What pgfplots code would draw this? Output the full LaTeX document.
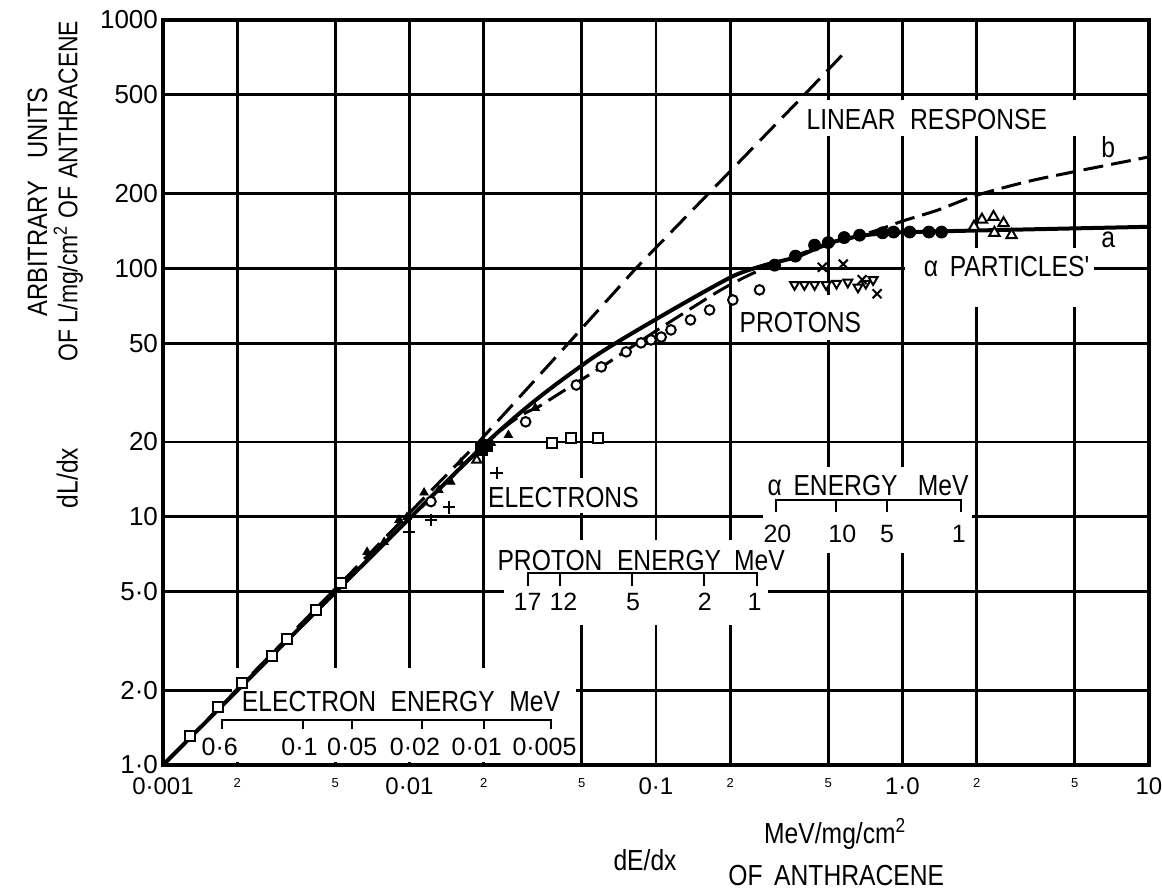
\documentclass[border=0pt]{standalone}
\usepackage{pgfplots}
\pgfplotsset{compat=1.18}
\usepackage{fontspec}
\setmainfont{Liberation Sans}
\newfontfamily\narrow{Liberation Sans}[FakeStretch=0.85]
\newcommand\sm{\fontsize{6.5}{7}\selectfont}
\tikzset{
  lab/.style={font=\narrow\fontsize{14.5}{16}\selectfont, inner sep=0pt},
  num/.style={font=\fontsize{12.5}{14}\selectfont, inner sep=0pt},
  mask/.style={fill=white, draw=none},
}
\begin{document}
\begin{tikzpicture}
\begin{axis}[
  scale only axis, width=493pt, height=372.5pt,
  xmode=log, ymode=log,
  xmin=0.001, xmax=10, ymin=1, ymax=1000,
  xtick={0.001,0.002,0.005,0.01,0.02,0.05,0.1,0.2,0.5,1,2,5,10},
  xticklabels={0·001,\sm 2,\sm 5,0·01,\sm 2,\sm 5,0·1,\sm 2,\sm 5,1·0,\sm 2,\sm 5,10},
  ytick={1,2,5,10,20,50,100,200,500,1000},
  yticklabels={1·0,2·0,5·0,10,20,50,100,200,500,1000},
  minor xtick={}, minor ytick={},
  major tick length=0pt,
  grid=major, major grid style={black, line width=1.4pt},
  axis line style={line width=1.8pt},
  xticklabel style={font=\fontsize{12}{13}\selectfont, yshift=-3pt},
  yticklabel style={font=\fontsize{13}{14}\selectfont, xshift=1pt},
  clip=false,
]
% white boxes behind the labels
\fill[mask] (rel axis cs:0.6485,0.8443) rectangle (rel axis cs:0.9364,0.8926);
\fill[mask] (rel axis cs:0.7525,0.6148) rectangle (rel axis cs:0.9444,0.6940);
\fill[mask] (rel axis cs:0.5879,0.5705) rectangle (rel axis cs:0.7061,0.6309);
\fill[mask] (rel axis cs:0.3303,0.3383) rectangle (rel axis cs:0.4818,0.3852);
\fill[mask] (rel axis cs:0.6081,0.2846) rectangle (rel axis cs:0.8202,0.4000);
\fill[mask] (rel axis cs:0.3455,0.1879) rectangle (rel axis cs:0.6131,0.3020);
\fill[mask] (rel axis cs:0.0697,0.0040) rectangle (rel axis cs:0.4192,0.1302);

% labels
\node[lab] at (rel axis cs:0.7747,0.8671) {LINEAR\hspace{0.5em}RESPONSE};
\node[lab] at (rel axis cs:0.9586,0.8295) {b};
\node[lab] at (rel axis cs:0.9586,0.7047) {a};
\node[lab] at (rel axis cs:0.8556,0.6685) {α\hspace{0.4em}PARTICLES'};
\node[lab] at (rel axis cs:0.6465,0.5946) {PROTONS};
\node[lab] at (rel axis cs:0.4061,0.3584) {ELECTRONS};

% alpha energy scale
\node[lab] at (rel axis cs:0.7152,0.3745) {α\hspace{0.4em}ENERGY\hspace{0.7em}MeV};
\draw[line width=1pt] (rel axis cs:0.6212,0.3396) -- (rel axis cs:0.6212,0.3557) -- (rel axis cs:0.8091,0.3557) -- (rel axis cs:0.8091,0.3396);
\draw[line width=1pt] (rel axis cs:0.6828,0.3557) -- (rel axis cs:0.6828,0.3396);
\draw[line width=1pt] (rel axis cs:0.7343,0.3557) -- (rel axis cs:0.7343,0.3396);
\node[num] at (rel axis cs:0.6232,0.3100) {20};
\node[num] at (rel axis cs:0.6889,0.3100) {10};
\node[num] at (rel axis cs:0.7343,0.3100) {5};
\node[num] at (rel axis cs:0.8071,0.3100) {1};

% proton energy scale
\node[lab] at (rel axis cs:0.4850,0.2745) {PROTON\hspace{0.5em}ENERGY\hspace{0.45em}MeV};
\draw[line width=1pt] (rel axis cs:0.3697,0.2403) -- (rel axis cs:0.3697,0.2577) -- (rel axis cs:0.6020,0.2577) -- (rel axis cs:0.6020,0.2403);
\draw[line width=1pt] (rel axis cs:0.4030,0.2577) -- (rel axis cs:0.4030,0.2403);
\draw[line width=1pt] (rel axis cs:0.4758,0.2577) -- (rel axis cs:0.4758,0.2403);
\draw[line width=1pt] (rel axis cs:0.5485,0.2577) -- (rel axis cs:0.5485,0.2403);
\node[num] at (rel axis cs:0.3697,0.2188) {17};
\node[num] at (rel axis cs:0.4061,0.2188) {12};
\node[num] at (rel axis cs:0.4768,0.2188) {5};
\node[num] at (rel axis cs:0.5495,0.2188) {2};
\node[num] at (rel axis cs:0.6000,0.2188) {1};

% electron energy scale
\node[lab] at (rel axis cs:0.2414,0.0859) {ELECTRON\hspace{0.5em}ENERGY\hspace{0.5em}MeV};
\draw[line width=1pt] (rel axis cs:0.0596,0.0483) -- (rel axis cs:0.0596,0.0604) -- (rel axis cs:0.3939,0.0604) -- (rel axis cs:0.3939,0.0483);
\draw[line width=1pt] (rel axis cs:0.1424,0.0604) -- (rel axis cs:0.1424,0.0483);
\draw[line width=1pt] (rel axis cs:0.1919,0.0604) -- (rel axis cs:0.1919,0.0483);
\draw[line width=1pt] (rel axis cs:0.2626,0.0604) -- (rel axis cs:0.2626,0.0483);
\draw[line width=1pt] (rel axis cs:0.3253,0.0604) -- (rel axis cs:0.3253,0.0483);
\node[num] at (rel axis cs:0.0576,0.0242) {0·6};
\node[num] at (rel axis cs:0.1384,0.0242) {0·1};
\node[num] at (rel axis cs:0.1919,0.0242) {0·05};
\node[num] at (rel axis cs:0.2556,0.0242) {0·02};
\node[num] at (rel axis cs:0.3182,0.0242) {0·01};
\node[num] at (rel axis cs:0.3869,0.0242) {0·005};

% axis titles
\node[lab, rotate=90, font=\narrow\fontsize{14}{16}\selectfont] at (rel axis cs:-0.1273,0.7557) {ARBITRARY\hspace{0.8em}UNITS};
\node[lab, rotate=90, font=\narrow\fontsize{13.5}{15}\selectfont] at (rel axis cs:-0.0960,0.7705) {OF L/mg/cm\textsuperscript{2} OF\hspace{0.3em}ANTHRACENE};
\node[lab, rotate=90] at (rel axis cs:-0.0970,0.3852) {dL/dx};
\node[lab] at (rel axis cs:0.4889,-0.1275) {dE/dx};
\node[lab] at (rel axis cs:0.6818,-0.0926) {MeV/mg/cm\textsuperscript{2}};
\node[lab] at (rel axis cs:0.6828,-0.1477) {OF\hspace{0.4em}ANTHRACENE};

% linear response
\addplot[black, line width=1.5pt, dash pattern=on 11pt off 5pt] coordinates {
  (0.001,1) (0.0191,20) (0.0442,50) (0.0829,100) (0.4,500) (0.596,758)};
% curve b
\addplot[black, line width=1.5pt, dash pattern=on 10pt off 4pt, smooth, tension=0.4] coordinates {
  (0.001,1) (0.0197,19) (0.035,28.5) (0.06,40) (0.1,56) (0.18,81) (0.25,96)
  (0.4,116) (0.6,131) (0.8,143) (1,155) (1.4,172) (2,197) (3.5,228) (10,281)};
% curve a
\addplot[black, line width=2pt, smooth, tension=0.4] coordinates {
  (0.001,1) (0.0197,19.1) (0.0517,41.6) (0.102,63.1) (0.202,92.3) (0.276,103)
  (0.37,111) (0.5,126) (0.67,135) (0.9,139) (1.44,141) (10,147)};

% electrons: open squares
\addplot[only marks, mark=square*, mark size=2.5pt, mark options={fill=white, line width=1pt}] coordinates {
  (0.00129,1.31) (0.00167,1.71) (0.00210,2.14) (0.00276,2.75) (0.00317,3.22)
  (0.00419,4.21) (0.00529,5.41)};
\addplot[only marks, mark=square*, mark size=2.5pt, mark options={fill=white, line width=1pt}] coordinates {
  (0.0377,19.8) (0.0454,20.7) (0.0583,20.7)};
% electrons: filled triangles
\addplot[only marks, mark=triangle*, mark size=2.4pt] coordinates {
  (0.00673,7.21) (0.00789,7.91) (0.00907,9.70) (0.00977,9.97) (0.01146,12.5)
  (0.01316,12.8) (0.01472,13.8) (0.01615,16.5) (0.0215,19.8) (0.0252,21.3) (0.0324,27.4)};
\addplot[only marks, mark=triangle*, mark size=2.6pt, mark options={fill=white, line width=1pt}] coordinates {
  (0.01875,16.9)};
\addplot[only marks, mark=square*, mark size=3pt] coordinates {(0.0206,19.4) (0.0196,18.6)};
% electrons: crosses
\addplot[only marks, mark=+, mark size=3.2pt, mark options={line width=1pt}] coordinates {
  (0.00995,8.68) (0.01222,9.70) (0.01445,10.9) (0.0226,15.0)};
% protons: open circles
\addplot[only marks, mark=*, mark size=2.4pt, mark options={fill=white, line width=1pt}] coordinates {
  (0.01222,11.5) (0.0296,24.1) (0.0475,33.9) (0.0600,40.1) (0.0757,46.1) (0.0870,50.1)
  (0.0955,51.5) (0.105,52.9) (0.115,56.5) (0.138,62.0) (0.165,68.0) (0.205,74.6) (0.263,81.9)};
% protons: inverted open triangles
\addplot[only marks, mark=triangle*, mark size=2.6pt, mark options={fill=white, line width=1pt, rotate=180}] coordinates {
  (0.365,86) (0.40,86) (0.44,86) (0.49,86) (0.54,87) (0.60,88) (0.66,84) (0.71,87) (0.76,90)};
% protons: x marks
\addplot[only marks, mark=x, mark size=3.2pt, mark options={line width=1pt}] coordinates {
  (0.473,101) (0.575,104) (0.686,90) (0.789,79)};
% alpha particles: filled circles
\addplot[only marks, mark=*, mark size=3pt] coordinates {
  (0.303,103) (0.368,112) (0.44,124) (0.50,127) (0.58,133) (0.67,136) (0.83,139)
  (0.92,140) (1.07,140) (1.28,140) (1.44,140)};
% alpha particles: open triangles
\addplot[only marks, mark=triangle*, mark size=3pt, mark options={fill=white, line width=1pt}] coordinates {
  (1.95,147) (2.10,157) (2.34,161) (2.57,152) (2.36,139) (2.77,136)};
\end{axis}
\pgfresetboundingbox
\path ([shift={(-81.5pt,-63pt)}]current axis.south west) rectangle ([shift={(6.5pt,10pt)}]current axis.north east);
\end{tikzpicture}
\end{document}
